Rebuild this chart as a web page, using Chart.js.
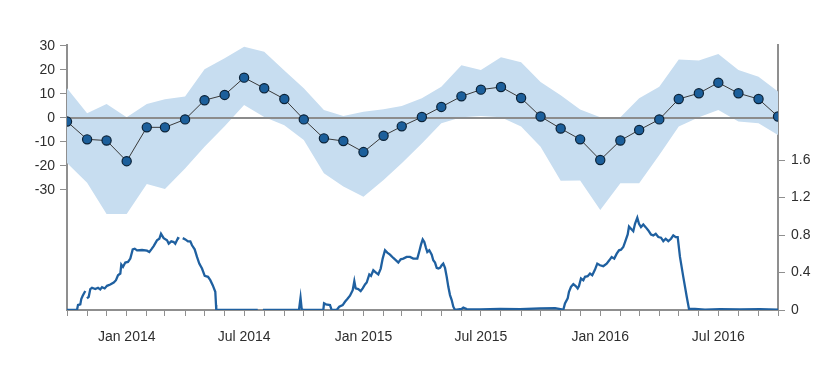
<!DOCTYPE html>
<html>
<head>
<meta charset="utf-8">
<script src="https://cdn.jsdelivr.net/npm/chart.js@4/dist/chart.umd.min.js"></script>
<style>
  html, body { margin: 0; padding: 0; background: #ffffff; }
  #wrap { width: 839px; height: 374px; position: relative; }
</style>
</head>
<body>
<div id="wrap"><canvas id="c" width="839" height="374"></canvas></div>
<script>
// ---------------- DATA ----------------
const START_DATE = '2013-10-01';
const END_DATE = '2016-10-01';

const months = [
  '2013-10-01','2013-11-01','2013-12-01',
  '2014-01-01','2014-02-01','2014-03-01','2014-04-01','2014-05-01','2014-06-01',
  '2014-07-01','2014-08-01','2014-09-01','2014-10-01','2014-11-01','2014-12-01',
  '2015-01-01','2015-02-01','2015-03-01','2015-04-01','2015-05-01','2015-06-01',
  '2015-07-01','2015-08-01','2015-09-01','2015-10-01','2015-11-01','2015-12-01',
  '2016-01-01','2016-02-01','2016-03-01','2016-04-01','2016-05-01','2016-06-01',
  '2016-07-01','2016-08-01','2016-09-01','2016-10-01'
];
const meanValues = [
  -1.5, -8.9, -9.4,
  -18, -3.9, -3.9, -0.6, 7.4, 9.6,
  16.8, 12.4, 7.9, -0.6, -8.5, -9.6,
  -14.2, -7.4, -3.5, 0.4, 4.6, 9.0,
  11.8, 12.9, 8.3, 0.6, -4.4, -8.9,
  -17.5, -9.4, -5.0, -0.6, 7.9, 10.3,
  14.7, 10.3, 7.9, 0.6
];
const upperValues = [
  12.4, 2.0, 5.8,
  0.3, 5.8, 7.8, 8.9, 20.3, 24.9,
  29.7, 27.6, 19.8, 12.4, 3.3, 0.8,
  2.6, 3.6, 5.0, 8.2, 13.0, 22.0,
  20.0, 25.3, 23.2, 15.0, 9.5, 3.5,
  0.3, 0.3, 8.2, 13.0, 24.4, 23.9,
  26.7, 20.0, 17.2, 11.0
];
const lowerValues = [
  -18.8, -27.0, -40.0,
  -40.0, -27.5, -29.6, -21.0, -12.0, -3.5,
  5.4, 0.4, -3.0, -9.2, -23.0, -28.6,
  -32.8, -25.8, -18.9, -10.6, -2.2, 0.3,
  0.8, 0.3, -3.6, -12.0, -26.2, -26.0,
  -38.3, -27.2, -27.2, -15.4, -3.6, 0.3,
  3.3, -1.5, -2.2, -7.1
];

// daily series (days since START_DATE); null = gap
const usageDays = [
  0, 15.4, 17, 20.5, 22, 24.2, 28.2, 29.5, 30.8, 33.5, 35.9, 38.5, 43.6, 47.8, 51.3, 54, 58.1,
  61.7, 66.7, 72, 75.5, 78.6, 82.2, 83.7, 86.3, 89.9, 94, 97.6, 101.3, 104.4, 107.9,
  115.6, 123.3, 126.9, 130, 133.6, 138.7, 142.3, 144.9, 149, 154.2, 156.8, 160.8, 164.5,
  166.9, 171.1, 173.1, 175.5, 178.4, 182.4, 186.5, 190.1, 192.7, 196.8, 200.4, 203.9,
  208.1, 212.3, 217.4, 220.9, 224.6, 228.6, 229.7, 230.1,
  294, 298, 302, 357.6, 360, 361.8, 364,
  395.1, 396.2, 399.2, 405.4, 408, 415.7, 419.7, 425, 428.5, 432.1, 436.2, 440.4, 442.9,
  445, 449, 452.7, 455.8, 459.4, 462, 466, 468.6, 472.2, 476.3, 479.9, 483.6, 486.6,
  490.2, 493.7, 497.9, 503, 507.2, 510.7, 514.4, 518.4, 523.6, 528.7, 533.8, 540,
  543.1, 545.7, 548.3, 550.8, 553.4, 555.4, 558.5, 562.2, 564.6, 567.3, 569.9, 572.4,
  575, 577.6, 580, 582.7, 585.3, 587.8, 590.4, 593, 595.5, 598.1, 608.4, 610.9, 616.2,
  636.6, 667.5, 698.3, 729.1, 752.3, 762.6, 765,
  767.6, 771.8, 773.8, 776.9, 780.5, 784.2, 787.2, 789.2, 792.3, 795.9, 798.5, 802.6,
  806.2, 809.7, 813.9, 817.4, 821.6, 826.7, 831.9, 835.9, 839.6, 843.6, 847.4, 850.9,
  854, 857.5, 860.2, 864.3, 866.3, 869.4, 872.9, 875.6, 879.1, 881.7, 884.8, 888.4,
  892, 896.1, 900.2, 903.8, 907.5, 911.5, 915.7, 919.2, 922.9, 926.9, 931.1, 934.6,
  938.3, 941.4, 944.9, 950, 955.3, 958.8, 968, 983.5, 1006.6, 1037.4, 1068.2, 1096
];
const usageValues = [
  0, 0, 0.053, 0.060, 0.117, 0.152, 0.202, null, 0.124, 0.141, 0.223, 0.237, 0.223, 0.237, 0.219, 0.244, 0.230,
  0.258, 0.272, 0.293, 0.318, 0.371, 0.389, 0.484, 0.460, 0.506, 0.513, 0.548, 0.647, 0.654, 0.636,
  0.640, 0.633, 0.619, 0.647, 0.682, 0.743, 0.760, 0.813, 0.767, 0.743, 0.707, 0.732, 0.725,
  0.707, 0.767, 0.760, null, 0.767, 0.753, 0.732, 0.732, 0.690, 0.647, 0.566, 0.495,
  0.442, 0.364, 0.354, 0.318, 0.265, 0.195, 0.053, 0,
  0, null, 0, 0, 0.13, 0.01, 0,
  0, 0.071, 0.060, 0.053, 0, 0, 0.035, 0.053, 0.088, 0.117, 0.152, 0.212, 0.308,
  0.230, 0.223, 0.202, 0.230, 0.272, 0.293, 0.379, 0.364, 0.424, 0.400, 0.379, 0.442, 0.548,
  0.637, 0.612, 0.591, 0.555, 0.530, 0.506, 0.541, 0.548, 0.566, 0.566, 0.548, 0.548,
  0.626, 0.697, 0.753, 0.725, 0.661, 0.619, 0.637, 0.591, 0.530, 0.506, 0.449, 0.442,
  0.449, 0.477, 0.495, 0.449, 0.354, 0.247, 0.159, 0.106, 0.035, 0, 0.011, 0.025, 0.010,
  0.007, 0.012, 0.008, 0.018, 0.020, 0.007, 0,
  0.071, 0.124, 0.195, 0.247, 0.276, 0.255, 0.230, 0.255, 0.336, 0.318, 0.354, 0.361,
  0.389, 0.371, 0.431, 0.495, 0.477, 0.467, 0.495, 0.530, 0.566, 0.548, 0.601, 0.637,
  0.644, 0.672, 0.725, 0.806, 0.891, 0.867, 0.841, 0.920, 0.984, 0.920, 0.884, 0.912,
  0.884, 0.849, 0.806, 0.796, 0.813, 0.778, 0.771, 0.735, 0.760, 0.735, 0.760, 0.796,
  0.778, 0.778, 0.566, 0.354, 0.141, 0.011, 0.011, 0.005, 0.010, 0.006, 0.010, 0.005
];

// tick labels
const leftTicks = [30, 20, 10, 0, -10, -20, -30];
const rightTicks = [0, 0.4, 0.8, 1.2, 1.6];
const xLabelDates = ['2014-01-01','2014-07-01','2015-01-01','2015-07-01','2016-01-01','2016-07-01'];
const xLabels = ['Jan 2014','Jul 2014','Jan 2015','Jul 2015','Jan 2016','Jul 2016'];

// ---------------- BUILD ----------------
const DAY = 86400000;
const t0 = Date.parse(START_DATE);
const toDay = d => (Date.parse(d) - t0) / DAY;
const xMax = toDay(END_DATE);

const monthX = months.map(toDay);
const meanPts = monthX.map((x, i) => ({ x, y: meanValues[i] }));
const upperPts = monthX.map((x, i) => ({ x, y: upperValues[i] }));
const lowerPts = monthX.map((x, i) => ({ x, y: lowerValues[i] }));
const usagePts = usageDays.map((x, i) => ({ x, y: usageValues[i] }));
const zeroPts = [{ x: 0, y: 0 }, { x: xMax, y: 0 }];

// monthly tick positions (minor ticks), with label only at Jan / Jul
const monthTicks = [];
{
  const d = new Date(t0);
  while ((d.getTime() - t0) / DAY <= xMax + 0.5) {
    monthTicks.push((d.getTime() - t0) / DAY);
    d.setUTCMonth(d.getUTCMonth() + 1);
  }
}
const labelAt = {};
xLabelDates.forEach((d, i) => { labelAt[Math.round(toDay(d))] = xLabels[i]; });

const AXIS = '#8f8f8f';
const TEXT = '#2e2e2e';
const FONT = { family: 'Liberation Sans, Arial, sans-serif', size: 14 };

new Chart(document.getElementById('c'), {
  type: 'line',
  data: {
    datasets: [
      { label: 'upper', data: upperPts, yAxisID: 'y', borderWidth: 0, pointRadius: 0,
        backgroundColor: 'rgb(199,221,240)', fill: '+1', order: 10, tension: 0 },
      { label: 'lower', data: lowerPts, yAxisID: 'y', borderWidth: 0, pointRadius: 0,
        fill: false, order: 9, tension: 0 },
      { label: 'zero', data: zeroPts, yAxisID: 'y', borderColor: '#8c8c8c', borderWidth: 2,
        pointRadius: 0, fill: false, order: 8 },
      { label: 'usage', data: usagePts, yAxisID: 'y2', borderColor: '#1f60a0', borderWidth: 2.3,
        pointRadius: 0, fill: false, spanGaps: false, order: 7, tension: 0 },
      { label: 'mean', data: meanPts, yAxisID: 'y', borderColor: '#3a3a3a', borderWidth: 1,
        pointRadius: 4.6, pointBackgroundColor: '#1c5f9b', pointBorderColor: '#0b2237',
        pointBorderWidth: 1.2, fill: false, order: 1, tension: 0 }
    ]
  },
  options: {
    responsive: false,
    animation: false,
    events: [],
    layout: { padding: { top: 45, left: 0, right: 0, bottom: 0 } },
    plugins: { legend: { display: false }, tooltip: { enabled: false } },
    scales: {
      x: {
        type: 'linear', min: 0, max: xMax,
        afterBuildTicks: s => { s.ticks = monthTicks.map(v => ({ value: v })); },
        afterFit: s => { s.height = 64; },
        ticks: {
          autoSkip: false, maxRotation: 0, minRotation: 0, padding: 13,
          color: TEXT, font: FONT,
          callback: v => labelAt[Math.round(v)] || ''
        },
        grid: { drawOnChartArea: false, drawTicks: true, tickLength: 6, color: AXIS, tickColor: AXIS },
        border: { display: true, color: AXIS, width: 2 }
      },
      y: {
        type: 'linear', position: 'left', min: -80, max: 30.4,
        afterBuildTicks: s => { s.ticks = leftTicks.map(v => ({ value: v })); },
        afterFit: s => { s.width = 67; },
        ticks: { color: TEXT, font: FONT, padding: 5, callback: v => String(v) },
        grid: { drawOnChartArea: false, drawTicks: true, tickLength: 7, color: AXIS, tickColor: AXIS },
        border: { display: true, color: AXIS, width: 2 }
      },
      y2: {
        type: 'linear', position: 'right', min: 0, max: 2.827,
        afterBuildTicks: s => { s.ticks = rightTicks.map(v => ({ value: v })); },
        afterFit: s => { s.width = 61; },
        ticks: { color: TEXT, font: FONT, padding: 6, callback: v => String(v) },
        grid: { drawOnChartArea: false, drawTicks: true, tickLength: 7, color: AXIS, tickColor: AXIS },
        border: { display: true, color: AXIS, width: 2 }
      }
    }
  }
});
</script>
</body>
</html>
